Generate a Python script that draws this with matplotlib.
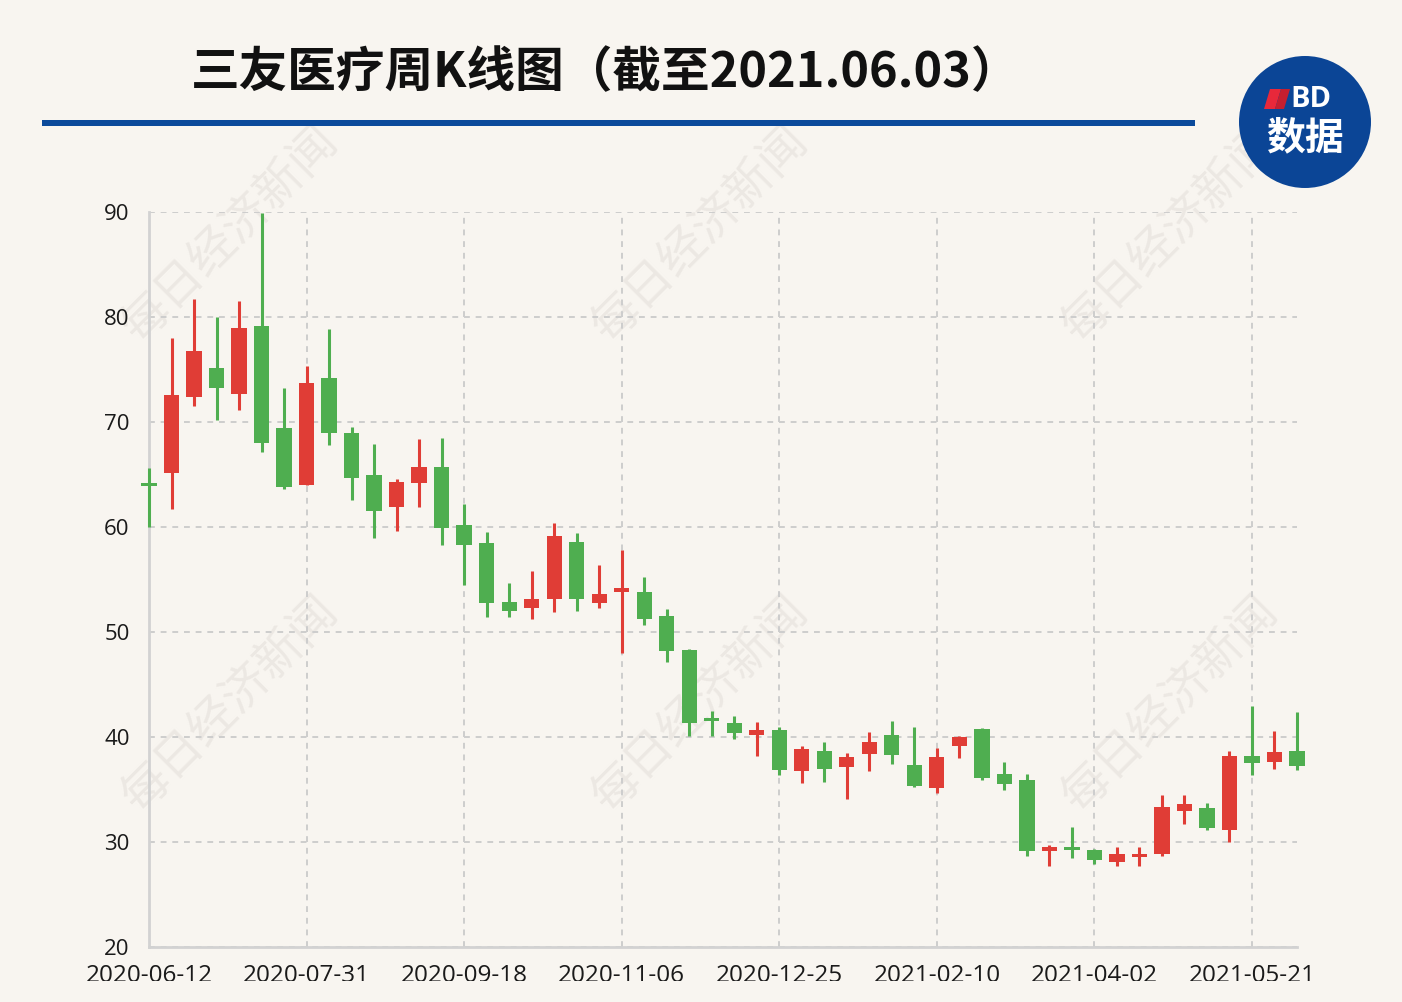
import numpy as np
import matplotlib
matplotlib.use("Agg")
import matplotlib.pyplot as plt
from matplotlib.patches import Circle, Rectangle, Polygon

plt.rcParams["font.family"] = ["Noto Sans CJK SC", "DejaVu Sans"]

# weekly K-line data
dates = [
    "2020-06-12", "2020-06-19", "2020-06-24", "2020-07-03", "2020-07-10", "2020-07-17",
    "2020-07-24", "2020-07-31", "2020-08-07", "2020-08-14", "2020-08-21", "2020-08-28",
    "2020-09-04", "2020-09-11", "2020-09-18", "2020-09-25", "2020-09-30", "2020-10-16",
    "2020-10-23", "2020-10-30", "2020-10-30", "2020-11-06", "2020-11-13", "2020-11-20",
    "2020-11-27", "2020-12-04", "2020-12-11", "2020-12-18", "2020-12-25", "2020-12-31",
    "2021-01-08", "2021-01-15", "2021-01-22", "2021-01-29", "2021-02-05", "2021-02-10",
    "2021-02-19", "2021-02-26", "2021-03-05", "2021-03-12", "2021-03-19", "2021-03-26",
    "2021-04-02", "2021-04-09", "2021-04-16", "2021-04-23", "2021-04-30", "2021-05-07",
    "2021-05-14", "2021-05-21", "2021-05-28", "2021-06-03",
]
tick_labels = ["2020-06-12", "2020-07-31", "2020-09-18", "2020-11-06",
               "2020-12-25", "2021-02-10", "2021-04-02", "2021-05-21"]

opens = [64.0, 65.1, 72.4, 75.1, 72.7, 79.1, 69.4, 64.0, 74.2, 69.0,
         65.0, 61.9, 64.2, 65.7, 60.2, 58.5, 52.9, 52.3, 53.1, 58.6,
         52.8, 53.8, 53.8, 51.5, 48.3, 41.6, 41.3, 40.2, 40.7, 36.8,
         38.7, 37.1, 38.4, 40.2, 37.3, 35.1, 39.1, 40.8, 36.5, 35.9,
         29.1, 29.3, 29.2, 28.1, 28.6, 28.9, 33.0, 33.2, 31.1, 38.2,
         37.6, 38.7]
closes = [63.9, 72.6, 76.8, 73.2, 79.0, 68.0, 63.8, 73.7, 69.0, 64.7,
          61.5, 64.3, 65.7, 59.9, 58.3, 52.8, 52.0, 53.1, 59.1, 53.1,
          53.6, 54.2, 51.2, 48.2, 41.3, 41.5, 40.4, 40.7, 36.9, 38.9,
          37.0, 38.1, 39.5, 38.3, 35.3, 38.1, 40.0, 36.1, 35.5, 29.1,
          29.5, 29.2, 28.3, 28.9, 28.7, 33.3, 33.6, 31.3, 38.2, 37.5,
          38.6, 37.2]
highs = [65.6, 78.0, 81.7, 80.0, 81.5, 89.9, 73.2, 75.3, 78.9, 69.5,
         67.9, 64.6, 68.4, 68.5, 62.2, 59.5, 54.7, 55.8, 60.4, 59.4,
         56.4, 57.8, 55.2, 52.2, 48.4, 42.5, 42.0, 41.4, 41.0, 39.1,
         39.5, 38.5, 40.5, 41.5, 41.0, 39.0, 40.1, 40.9, 37.6, 36.5,
         29.7, 31.4, 29.3, 29.5, 29.5, 34.5, 34.5, 33.7, 38.7, 43.0,
         40.6, 42.4]
lows = [60.0, 61.7, 71.5, 70.2, 71.1, 67.1, 63.6, 64.0, 67.8, 62.6,
        59.0, 59.6, 61.9, 58.3, 54.5, 51.4, 51.4, 51.2, 51.9, 52.0,
        52.3, 48.0, 50.7, 47.1, 40.1, 40.1, 39.8, 38.2, 36.4, 35.6,
        35.7, 34.1, 36.8, 37.4, 35.2, 34.7, 38.0, 35.9, 35.0, 28.7,
        27.7, 28.5, 27.9, 27.7, 27.7, 28.7, 31.7, 31.1, 30.0, 36.4,
        37.0, 36.9]

BG = "#f8f5f0"
UP = "#e03d36"
DOWN = "#4fae50"

fig = plt.figure(figsize=(14.02, 10.02), dpi=100, facecolor=BG)
ax = fig.add_axes([149 / 1402, 1 - 947 / 1002, (1297 - 149) / 1402, (947 - 212) / 1002])
ax.set_facecolor("none")

x = np.arange(len(dates))
o = np.array(opens)
c = np.array(closes)
colors = [UP if cc >= oo else DOWN for oo, cc in zip(o, c)]
body_bottom = np.minimum(o, c)
body_h = np.maximum(np.abs(c - o), 0.3)

ax.vlines(x, lows, highs, colors=colors, linewidth=2.2, zorder=3, clip_on=False)
ax.bar(x, body_h, bottom=body_bottom, width=0.68, color=colors, zorder=4, clip_on=False)

ax.set_xlim(0, len(dates) - 1)
ax.set_ylim(20, 90)
ax.set_yticks(np.arange(20, 91, 10))
tick_pos = [dates.index(d) for d in tick_labels]
ax.set_xticks(tick_pos)
ax.set_xticklabels(tick_labels)

for lab in ax.get_yticklabels():
    lab.set_family(["Open Sans", "DejaVu Sans"])
    lab.set_fontsize(16)
    lab.set_color("#1a1a1a")
for lab in ax.get_xticklabels():
    lab.set_family(["Open Sans", "DejaVu Sans"])
    lab.set_fontsize(17.5)
    lab.set_color("#1a1a1a")
ax.tick_params(axis="both", length=0)
ax.tick_params(axis="x", pad=12)
ax.tick_params(axis="y", pad=14)

ax.grid(True, color="#cdcdcd", linestyle=(0, (3, 3)), linewidth=1.4, zorder=0)
ax.set_axisbelow(True)
for side in ["top", "right"]:
    ax.spines[side].set_visible(False)
for side in ["left", "bottom"]:
    ax.spines[side].set_color("#d2d2d2")
    ax.spines[side].set_linewidth(2)

# watermark
for wx, wy in [(230, 235), (700, 235), (1170, 235), (230, 705), (700, 705), (1170, 705)]:
    fig.text(wx / 1402, 1 - wy / 1002, "每日经济新闻", rotation=45, fontsize=34,
             color="#ece8e3", ha="center", va="center", zorder=-1)

# title and rule
fig.text(606 / 1402, 1 - 73 / 1002, "三友医疗周K线图（截至2021.06.03）", fontsize=35,
         fontweight="bold", color="#111111", ha="center", va="center")
fig.add_artist(Rectangle((42 / 1402, 1 - 126 / 1002), (1195 - 42) / 1402, 6 / 1002,
                         transform=fig.transFigure, color="#0b4a9b", lw=0))

# logo
fig.add_artist(Circle((1305, 1002 - 122), 66, transform=None, color="#0b4596", lw=0))
fig.add_artist(Polygon([(1270, 1002 - 89), (1281, 1002 - 89), (1275, 1002 - 109), (1264, 1002 - 109)],
                       closed=True, transform=None, color="#e8283a", lw=0))
fig.add_artist(Polygon([(1281, 1002 - 89), (1290, 1002 - 89), (1284, 1002 - 109), (1275, 1002 - 109)],
                       closed=True, transform=None, color="#c41f30", lw=0))
fig.text(1290 / 1402, 1 - 99 / 1002, "BD", fontsize=21, fontweight="bold", color="white",
         ha="left", va="center", family=["Open Sans", "DejaVu Sans"])
fig.text(1305 / 1402, 1 - 138 / 1002, "数据", fontsize=28, fontweight="bold", color="white",
         ha="center", va="center")

# bottom band cuts the date labels like the original canvas
fig.add_artist(Rectangle((0, 0), 1, 21 / 1002, transform=fig.transFigure,
                         color=BG, lw=0, zorder=10))

fig.savefig("out.png", dpi=100, facecolor=BG)
